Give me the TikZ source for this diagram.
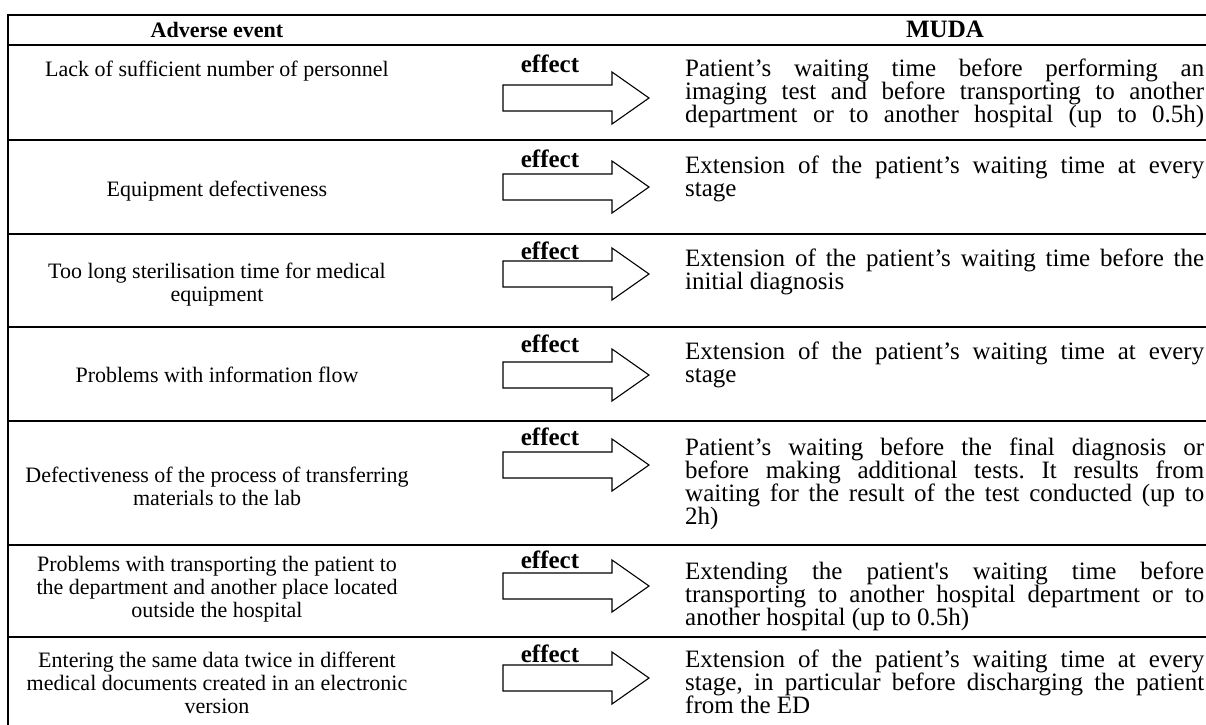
\documentclass[tikz,border=0pt]{standalone}
\usepackage{fontspec}
\setmainfont{Liberation Serif}[Ligatures=TeXOff]
\newcommand\fullline[1]{\makebox[519pt][s]{#1}}
\frenchspacing
\begin{document}
\begin{tikzpicture}[x=1pt,y=-1pt,
  rule/.style={line width=1.8pt, line cap=rect},
  evt/.style={inner sep=0pt, font=\fontsize{22}{23}\selectfont, align=center, anchor=base},
  muda/.style={inner sep=0pt, font=\fontsize{25}{23}\selectfont, align=left, anchor=base west},
  evthead/.style={inner sep=0pt, font=\fontsize{22}{23}\selectfont\bfseries, anchor=base},
  head/.style={inner sep=0pt, font=\fontsize{25}{23}\selectfont\bfseries, anchor=base},
  effarrow/.pic={\draw[line width=1.1pt, line join=miter, fill=white]
      (0,-13) -- (109,-13) -- (109,-26) -- (146,0) -- (109,26) -- (109,13) -- (0,13) -- cycle;}
]
\useasboundingbox (0,0) rectangle (1206,724);

% table rules
\foreach \y in {15,45,140,234,327,421,545,637}
  \draw[rule] (8,\y) -- (1206,\y);
\draw[rule] (8,15) -- (8,724);

% header
\node[evthead] (hA) at (217,37) {Adverse event};
\node[head] (hM) at (945,37) {MUDA};

% left column: adverse events (anchored at the baseline of the last line)
\node[evt] (a1) at (217,76) {Lack of sufficient number of personnel};
\node[evt] (a2) at (217,196) {Equipment defectiveness};
\node[evt] (a3) at (217,301) {Too long sterilisation time for medical\\equipment};
\node[evt] (a4) at (217,382) {Problems with information flow};
\node[evt] (a5) at (217,505) {Defectiveness of the process of transferring\\materials to the lab};
\node[evt] (a6) at (217,617) {Problems with transporting the patient to\\the department and another place located\\outside the hospital};
\node[evt] (a7) at (217,713) {Entering the same data twice in different\\medical documents created in an electronic\\version};

% middle column: effect arrows
\node[head] (e1) at (550,72) {effect};
\pic at (503,98) {effarrow};
\node[head] (e2) at (550,167) {effect};
\pic at (503,187) {effarrow};
\node[head] (e3) at (550,259) {effect};
\pic at (503,274) {effarrow};
\node[head] (e4) at (550,352) {effect};
\pic at (503,375) {effarrow};
\node[head] (e5) at (550,445) {effect};
\pic at (503,465) {effarrow};
\node[head] (e6) at (550,568) {effect};
\pic at (503,586) {effarrow};
\node[head] (e7) at (550,662) {effect};
\pic at (503,678) {effarrow};

% right column: MUDA (anchored at the baseline of the last line)
\node[muda] (m1) at (685,122) {\fullline{Patient’s waiting time before performing an}\\
  \fullline{imaging test and before transporting to another}\\
  \fullline{department or to another hospital (up to 0.5h)}};
\node[muda] (m2) at (685,196) {\fullline{Extension of the patient’s waiting time at every}\\stage};
\node[muda] (m3) at (685,289) {\fullline{Extension of the patient’s waiting time before the}\\initial diagnosis};
\node[muda] (m4) at (685,382) {\fullline{Extension of the patient’s waiting time at every}\\stage};
\node[muda] (m5) at (685,524) {\fullline{Patient’s waiting before the final diagnosis or}\\
  \fullline{before making additional tests. It results from}\\
  \fullline{waiting for the result of the test conducted (up to}\\2h)};
\node[muda] (m6) at (685,625) {\fullline{Extending the patient's waiting time before}\\
  \fullline{transporting to another hospital department or to}\\
  another hospital (up to 0.5h)};
\node[muda] (m7) at (685,713) {\fullline{Extension of the patient’s waiting time at every}\\
  \fullline{stage, in particular before discharging the patient}\\
  from the ED};
\end{tikzpicture}
\end{document}
